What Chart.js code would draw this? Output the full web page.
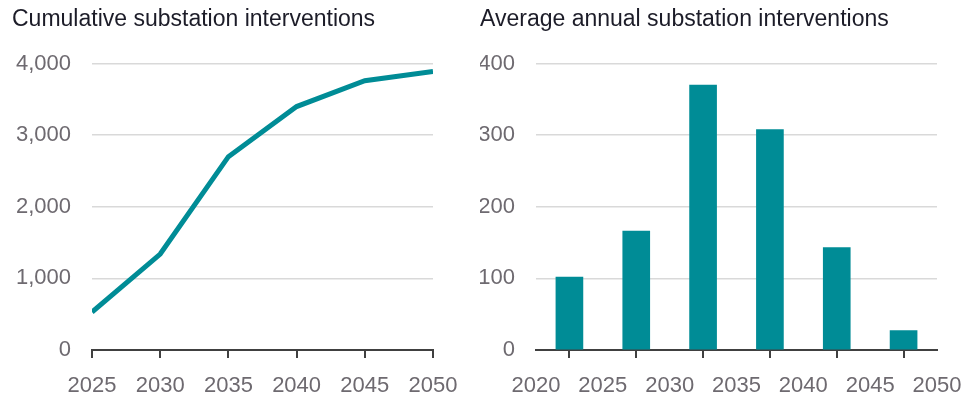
<!DOCTYPE html>
<html>
<head>
<meta charset="utf-8">
<script src="https://cdn.jsdelivr.net/npm/chart.js@4"></script>
<style>
  html, body { margin: 0; padding: 0; background: #fff; }
  body { width: 974px; height: 404px; position: relative; overflow: hidden; }
  .box { position: absolute; top: 0; height: 404px; }
  #left { left: 0; width: 470px; }
  #right { left: 470px; width: 504px; }
</style>
</head>
<body>
<div class="box" id="left"><canvas id="chart-line"></canvas></div>
<div class="box" id="right"><canvas id="chart-bar"></canvas></div>
<script>
const years = [2025, 2030, 2035, 2040, 2045, 2050];
const cumulative = [530, 1340, 2700, 3400, 3760, 3890];

const periodMid = [2022.5, 2027.5, 2032.5, 2037.5, 2042.5, 2047.5];
const annual = [102, 166, 370, 308, 143, 27];

const TEAL = '#008c96';
const FONT = "'Liberation Sans', Arial, sans-serif";

const tickFont = { family: FONT, size: 22 };
const tickColor = '#6e6a70';

function xAxis(min, max) {
    return {
        type: 'linear',
        min, max,
        offset: false,
        border: { display: true, color: '#404040', width: 2 },
        grid: { drawOnChartArea: false, drawTicks: true, tickLength: 8, color: '#404040', lineWidth: 2 },
        ticks: { stepSize: 5, color: tickColor, font: tickFont, padding: 15, maxRotation: 0, autoSkip: false,
                 callback: v => String(v) },
        // the end labels may hang past the plot, the layout padding keeps room for them
        afterFit: s => { s.height = 54; s.paddingLeft = 0; s.paddingRight = 0; }
    };
}

function yAxis(max, step, width) {
    return {
        min: 0, max,
        border: { display: false },
        grid: { color: '#d9d9d9', lineWidth: 1.5, drawTicks: false },
        ticks: { stepSize: step, color: tickColor, font: tickFont, padding: 21,
                 callback: v => v.toLocaleString('en-US') },
        afterFit: s => { s.width = width; }
    };
}

function titleOpts(text) {
    return {
        display: true,
        text,
        align: 'start',
        color: '#1c1c28',
        font: { family: FONT, size: 23, weight: 'normal' },
        padding: { top: 6, bottom: 30 }
    };
}

new Chart(document.getElementById('chart-line'), {
    type: 'line',
    data: {
        datasets: [{
            data: years.map((y, i) => ({ x: y, y: cumulative[i] })),
            borderColor: TEAL,
            borderWidth: 5,
            pointRadius: 0,
            tension: 0,
            borderCapStyle: 'butt'
        }]
    },
    options: {
        responsive: true,
        maintainAspectRatio: false,
        animation: false,
        layout: { padding: { left: 12, right: 37, top: 0, bottom: 0 } },
        plugins: { legend: { display: false }, tooltip: { enabled: false }, title: titleOpts('Cumulative substation interventions') },
        scales: { x: xAxis(2025, 2050), y: yAxis(4000, 1000, 80) }
    }
});

new Chart(document.getElementById('chart-bar'), {
    type: 'bar',
    data: {
        datasets: [{
            data: periodMid.map((x, i) => ({ x, y: annual[i] })),
            backgroundColor: TEAL,
            barThickness: 27
        }]
    },
    options: {
        responsive: true,
        maintainAspectRatio: false,
        animation: false,
        layout: { padding: { left: 10, right: 37, top: 0, bottom: 0 } },
        plugins: { legend: { display: false }, tooltip: { enabled: false }, title: titleOpts('Average annual substation interventions') },
        scales: { x: xAxis(2020, 2050), y: yAxis(400, 100, 56) }
    }
});
</script>
</body>
</html>
